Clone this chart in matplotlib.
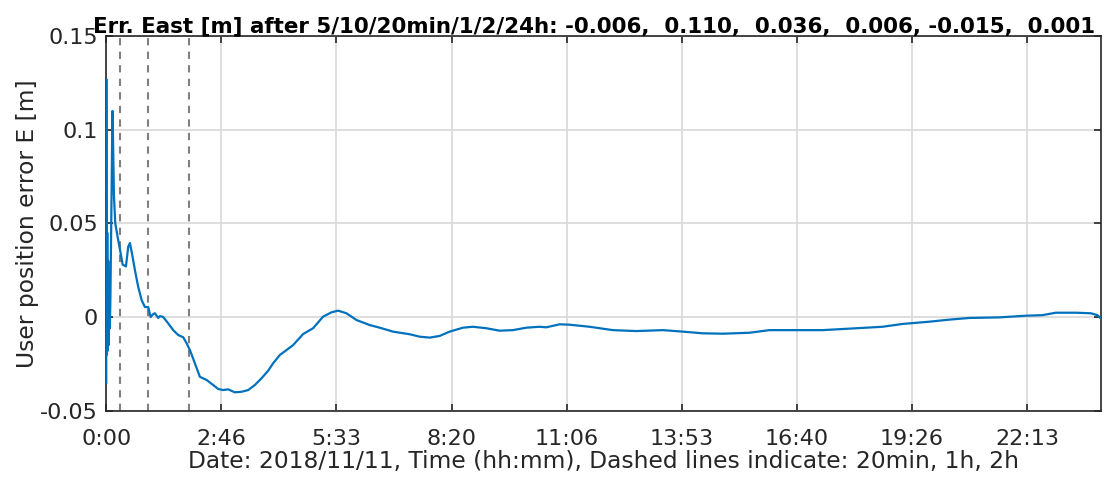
import numpy as np
import matplotlib
matplotlib.use('Agg')
import matplotlib.pyplot as plt
from matplotlib.ticker import FormatStrFormatter

plt.rcParams['font.family'] = 'DejaVu Sans'
plt.rcParams['axes.unicode_minus'] = False

# time in hours, east error in metres
t_hours = [0.000, 0.002, 0.006, 0.010, 0.016, 0.024, 0.034, 0.046, 0.058, 0.072,
           0.086, 0.100, 0.125, 0.150, 0.160, 0.185, 0.217, 0.289, 0.347, 0.395,
           0.475, 0.530, 0.571, 0.620, 0.692, 0.772, 0.854, 0.933, 1.013, 1.071,
           1.133, 1.174, 1.254, 1.295, 1.374, 1.495, 1.616, 1.736, 1.857, 1.939,
           2.018, 2.139, 2.259, 2.421, 2.580, 2.701, 2.821, 2.942, 3.103, 3.265,
           3.424, 3.586, 3.747, 3.906, 4.027, 4.188, 4.509, 4.750, 4.991, 5.233,
           5.435, 5.594, 5.797, 6.038, 6.359, 6.600, 6.920, 7.323, 7.564, 7.805,
           8.046, 8.287, 8.608, 8.850, 9.173, 9.493, 9.814, 10.137, 10.458, 10.619,
           10.940, 11.181, 11.664, 12.225, 12.790, 13.431, 13.913, 14.396, 14.878, 15.521,
           16.004, 16.647, 17.289, 17.933, 18.736, 19.218, 19.862, 20.344, 20.827, 21.550,
           22.194, 22.594, 22.917, 23.399, 23.761, 23.920, 23.990]
err_east = [-0.035, 0.127, 0.020, 0.060, -0.020, 0.045, -0.018, 0.030, -0.015, 0.020,
            -0.006, 0.010, 0.060, 0.110, 0.100, 0.065, 0.050, 0.041, 0.034, 0.028,
            0.027, 0.0375, 0.0395, 0.034, 0.025, 0.016, 0.009, 0.0053, 0.0053, 0.000,
            0.0016, 0.002, -0.0005, 0.0005, 0.000, -0.0034, -0.007, -0.0096, -0.0108, -0.014,
            -0.0176, -0.0247, -0.0319, -0.0336, -0.0363, -0.0384, -0.039, -0.0386, -0.0402, -0.0399,
            -0.039, -0.0363, -0.0327, -0.0287, -0.0247, -0.0203, -0.015, -0.0091, -0.006, 0.0002,
            0.0025, 0.0034, 0.002, -0.0016, -0.0043, -0.0057, -0.0078, -0.0092, -0.0105, -0.011,
            -0.0101, -0.0078, -0.0057, -0.0052, -0.006, -0.0073, -0.007, -0.0057, -0.0052, -0.0055,
            -0.0039, -0.0041, -0.0052, -0.007, -0.0075, -0.007, -0.0078, -0.0087, -0.0089, -0.0084,
            -0.007, -0.007, -0.007, -0.0062, -0.0052, -0.0037, -0.0025, -0.0014, -0.0005, -0.0002,
            0.0007, 0.001, 0.0023, 0.0023, 0.002, 0.001, -0.0005]

dashed_hours = [1 / 3, 1, 2]
xtick_labels = ['0:00', '2:46', '5:33', '8:20', '11:06', '13:53', '16:40', '19:26', '22:13']
yticks = [-0.05, 0, 0.05, 0.1, 0.15]
title = ('Err. East [m] after 5/10/20min/1/2/24h: -0.006,  0.110,  0.036,  '
         '0.006, -0.015,  0.001')

fig = plt.figure(figsize=(11.15, 4.8), dpi=100)
ax = fig.add_axes([0.0953, 0.1444, 0.8919, 0.7806])

ax.plot(t_hours, err_east, color='#0072BD', lw=1.6, zorder=3)
for h in dashed_hours:
    ax.axvline(h, color='#808080', ls=(0, (3.5, 3)), lw=1.5, zorder=2)

ax.set_xlim(0, 24)
ax.set_ylim(-0.05, 0.15)
ax.set_xticks([k * 10000 / 3600 for k in range(len(xtick_labels))])
ax.set_xticklabels(xtick_labels)
ax.set_yticks(yticks)
ax.yaxis.set_major_formatter(FormatStrFormatter('%g'))

ax.grid(True, color='#d8d8d8', lw=1.2, zorder=0)
ax.set_axisbelow(True)
ax.tick_params(direction='in', length=5, width=1.2, top=True, right=True,
               labelsize=16, colors='#262626')
ax.tick_params(axis='x', pad=13)
ax.tick_params(axis='y', pad=6)
for s in ax.spines.values():
    s.set_color('#262626')
    s.set_linewidth(1.2)

ax.set_xlabel('Date: 2018/11/11, Time (hh:mm), Dashed lines indicate: 20min, 1h, 2h',
              fontsize=16.8, color='#262626', labelpad=1)
ax.set_ylabel('User position error E [m]', fontsize=16.8, color='#262626', labelpad=1)
ax.set_title(title, fontsize=15.4, fontweight='bold', pad=3, x=0.4904)

fig.savefig('out.png', dpi=100)
